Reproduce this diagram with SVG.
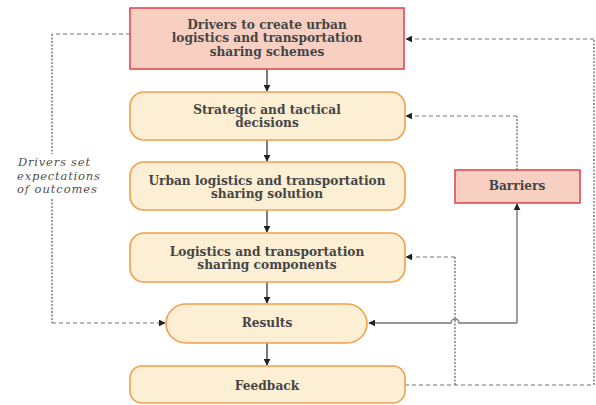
<svg xmlns="http://www.w3.org/2000/svg" width="596" height="405" viewBox="0 0 596 405">
<style>
.red{fill:#f8d0c2;stroke:#e04a55;stroke-width:1.6}
.org{fill:#fdefd4;stroke:#f0a04e;stroke-width:1.6}
.t{font-family:"DejaVu Serif",serif;font-weight:bold;font-size:12.2px;fill:#454545;text-anchor:middle}
.it{font-family:"DejaVu Serif",serif;font-style:italic;font-size:11.5px;fill:#505050}
.arr{stroke:#333;stroke-width:1.3;fill:none}
.dh{stroke:#777;stroke-width:1.2;fill:none;stroke-dasharray:4,3}
.dv{stroke:#777;stroke-width:1.4;fill:none;stroke-dasharray:2,1.5}
.sol{stroke:#777;stroke-width:1.4;fill:none}
</style>
<defs>
<marker id="ah" viewBox="0 0 10 10" refX="9" refY="5" markerWidth="7" markerHeight="7" markerUnits="userSpaceOnUse" orient="auto">
<path d="M0,0 L10,5 L0,10 z" fill="#222"/>
</marker>
</defs>
<rect width="596" height="405" fill="#ffffff"/>
<g id="connectors">
<line class="arr" x1="267" y1="69" x2="267" y2="91" marker-end="url(#ah)"/>
<line class="arr" x1="267" y1="140" x2="267" y2="161" marker-end="url(#ah)"/>
<line class="arr" x1="267" y1="210" x2="267" y2="232" marker-end="url(#ah)"/>
<line class="arr" x1="267" y1="282" x2="267" y2="303" marker-end="url(#ah)"/>
<line class="arr" x1="267" y1="343" x2="267" y2="365" marker-end="url(#ah)"/>
<line class="dh" x1="130" y1="34" x2="52" y2="34"/>
<line class="dv" x1="52" y1="34" x2="52" y2="154"/>
<line class="dv" x1="52" y1="199" x2="52" y2="323"/>
<line class="dh" x1="52" y1="323" x2="165" y2="323" marker-end="url(#ah)"/>
<line class="dh" x1="405" y1="385" x2="594" y2="385"/>
<line class="dv" x1="594" y1="385" x2="594" y2="39"/>
<line class="dh" x1="594" y1="39" x2="406" y2="39" marker-end="url(#ah)"/>
<line class="dv" x1="517" y1="170" x2="517" y2="116"/>
<line class="dh" x1="517" y1="116" x2="406" y2="116" marker-end="url(#ah)"/>
<line class="dv" x1="455" y1="385" x2="455" y2="257"/>
<line class="dh" x1="455" y1="257" x2="406" y2="257" marker-end="url(#ah)"/>
<path class="sol" d="M517,323 L459,323 A4,4 0 0 0 451,323 L369,323" marker-end="url(#ah)"/>
<line class="sol" x1="517" y1="323" x2="517" y2="204" marker-end="url(#ah)"/>
</g>
<g id="drivers">
<rect class="red" x="130" y="8" width="274" height="61"/>
<text class="t" x="267" y="29">Drivers to create urban</text>
<text class="t" x="267" y="42">logistics and transportation</text>
<text class="t" x="267" y="56">sharing schemes</text>
</g>
<g id="strategic">
<rect class="org" x="130" y="92" width="275" height="48" rx="14"/>
<text class="t" x="267" y="114">Strategic and tactical</text>
<text class="t" x="267" y="127">decisions</text>
</g>
<g id="solution">
<rect class="org" x="130" y="162" width="275" height="48" rx="14"/>
<text class="t" x="267" y="185">Urban logistics and transportation</text>
<text class="t" x="267" y="198">sharing solution</text>
</g>
<g id="components">
<rect class="org" x="130" y="233" width="275" height="49" rx="14"/>
<text class="t" x="267" y="256">Logistics and transportation</text>
<text class="t" x="267" y="269">sharing components</text>
</g>
<g id="results">
<rect class="org" x="166" y="304" width="201" height="39" rx="20"/>
<text class="t" x="267" y="327">Results</text>
</g>
<g id="feedback">
<rect class="org" x="130" y="366" width="275" height="37" rx="12"/>
<text class="t" x="267" y="390">Feedback</text>
</g>
<g id="barriers">
<rect class="red" x="455" y="170" width="125" height="33"/>
<text class="t" x="517" y="190">Barriers</text>
</g>
<g id="note">
<text class="it" x="18" y="166" textLength="72" lengthAdjust="spacing">Drivers set</text>
<text class="it" x="17" y="179.5" textLength="83" lengthAdjust="spacing">expectations</text>
<text class="it" x="17" y="193" textLength="80" lengthAdjust="spacing">of outcomes</text>
</g>
</svg>
